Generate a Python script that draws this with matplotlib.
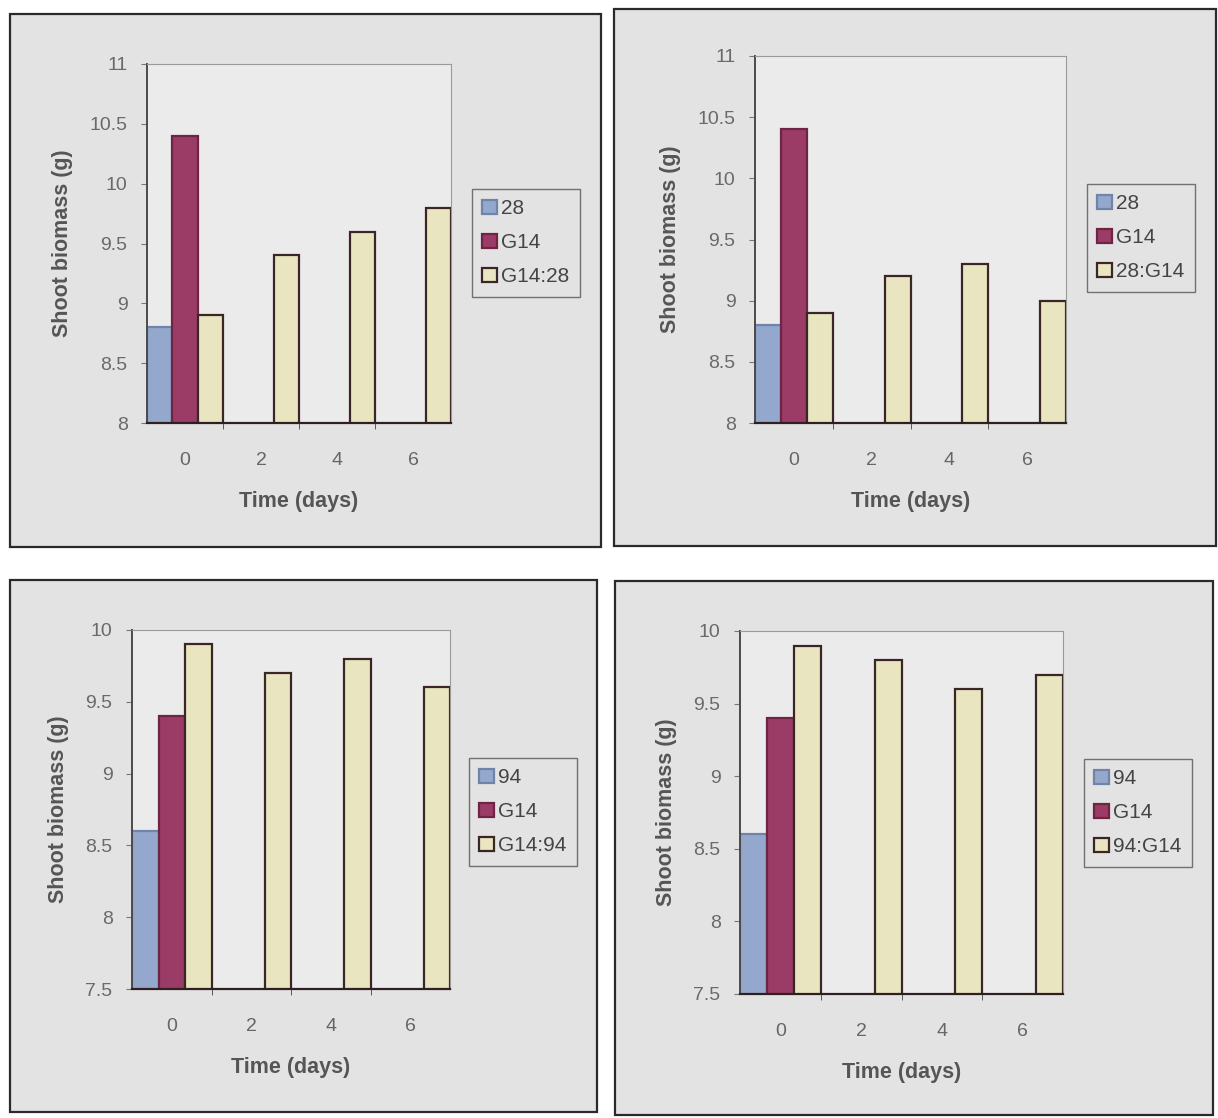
import matplotlib

matplotlib.use("Agg")

import matplotlib.pyplot as plt
from matplotlib.patches import Rectangle

W, H = 1218, 1118

days = ["0", "2", "4", "6"]

# panel A: 28 / G14 / G14:28
a_labels = ["28", "G14", "G14:28"]
a_single = [8.8, None, None, None]
a_g14 = [10.4, None, None, None]
a_mix = [8.9, 9.4, 9.6, 9.8]

# panel B: 28 / G14 / 28:G14
b_labels = ["28", "G14", "28:G14"]
b_single = [8.8, None, None, None]
b_g14 = [10.4, None, None, None]
b_mix = [8.9, 9.2, 9.3, 9.0]

# panel C: 94 / G14 / G14:94
c_labels = ["94", "G14", "G14:94"]
c_single = [8.6, None, None, None]
c_g14 = [9.4, None, None, None]
c_mix = [9.9, 9.7, 9.8, 9.6]

# panel D: 94 / G14 / 94:G14
d_labels = ["94", "G14", "94:G14"]
d_single = [8.6, None, None, None]
d_g14 = [9.4, None, None, None]
d_mix = [9.9, 9.8, 9.6, 9.7]

colors = ["#93a8cc", "#9a3c66", "#e8e5c0"]
edges = ["#7083a8", "#6e2444", "#3b2626"]

plt.rcParams["font.family"] = ["Liberation Sans", "DejaVu Sans"]


def rect(x0, y0, x1, y1):
    return [x0 / W, 1 - y1 / H, (x1 - x0) / W, (y1 - y0) / H]


def draw_panel(fig, frame, plot, legend_box, series, labels, ylim):
    fx0, fy0, fx1, fy1 = frame
    fig.patches.append(
        Rectangle((fx0 / W, 1 - fy1 / H), (fx1 - fx0) / W, (fy1 - fy0) / H,
                  transform=fig.transFigure, facecolor="#e3e3e3",
                  edgecolor="#2a2a2a", linewidth=1.6, zorder=-5)
    )
    ax = fig.add_axes(rect(*plot))
    ax.set_zorder(1)
    ax.set_facecolor("#ebebeb")
    width = 1 / 3
    handles = []
    for k, vals in enumerate(series):
        xs = [i + (k - 1) * width for i, v in enumerate(vals) if v is not None]
        hs = [v for v in vals if v is not None]
        b = ax.bar(xs, hs, width=width, color=colors[k], edgecolor=edges[k],
                   linewidth=1.6, label=labels[k], zorder=2)
        handles.append(b)
    ax.set_xlim(-0.5, 3.5)
    ax.set_ylim(*ylim)
    ax.set_yticks([ylim[0] + 0.5 * i for i in range(int(round((ylim[1] - ylim[0]) / 0.5)) + 1)])
    ax.set_yticklabels([f"{t:g}" for t in ax.get_yticks()])
    ax.set_xticks(range(4))
    ax.set_xticklabels(days)
    ax.set_xticks([0.5, 1.5, 2.5], minor=True)
    ax.tick_params(axis="x", which="major", length=0, pad=21, labelsize=14, labelcolor="#666666")
    ax.tick_params(axis="x", which="minor", length=4, color="#444444", direction="out")
    ax.tick_params(axis="y", length=4, color="#777777", pad=10, labelsize=14, labelcolor="#6a6a6a")
    for side in ("top", "right"):
        ax.spines[side].set_color("#9a9a9a")
        ax.spines[side].set_linewidth(0.8)
    ax.spines["left"].set_color("#4a4a4a")
    ax.spines["left"].set_linewidth(1.4)
    ax.spines["bottom"].set_color("#2e2020")
    ax.spines["bottom"].set_linewidth(1.6)
    ax.set_xlabel("Time (days)", fontsize=15.5, fontweight="bold", color="#555555", labelpad=16)
    ax.set_ylabel("Shoot biomass (g)", fontsize=15.5, fontweight="bold", color="#555555", labelpad=12)

    lx0, ly0, lx1, ly1 = legend_box
    leg = fig.legend(handles=handles, loc="upper left",
                     bbox_to_anchor=(lx0 / W, 1 - ly0 / H), bbox_transform=fig.transFigure,
                     fontsize=15, frameon=True, fancybox=False, handlelength=0.7,
                     handleheight=0.7, handletextpad=0.2, labelspacing=0.72,
                     borderpad=0.5, borderaxespad=0)
    leg.set_zorder(3)
    leg.get_frame().set_facecolor("#e3e3e3")
    leg.get_frame().set_edgecolor("#555555")
    leg.get_frame().set_linewidth(1.0)
    for t in leg.get_texts():
        t.set_color("#444444")
    return ax


fig = plt.figure(figsize=(W / 100, H / 100), dpi=100)
fig.patch.set_facecolor("white")

draw_panel(fig, (10, 14, 601, 547), (147, 64, 451, 423), (472, 189, 584, 296),
           [a_single, a_g14, a_mix], a_labels, (8, 11))
draw_panel(fig, (614, 9, 1216, 546), (755, 56, 1066, 423), (1087, 184, 1202, 293),
           [b_single, b_g14, b_mix], b_labels, (8, 11))
draw_panel(fig, (10, 580, 597, 1112), (132, 630, 450, 989), (469, 758, 582, 864),
           [c_single, c_g14, c_mix], c_labels, (7.5, 10))
draw_panel(fig, (615, 581, 1213, 1115), (740, 631, 1063, 994), (1084, 759, 1199, 866),
           [d_single, d_g14, d_mix], d_labels, (7.5, 10))

fig.savefig("out.png", dpi=100, facecolor=fig.get_facecolor())
